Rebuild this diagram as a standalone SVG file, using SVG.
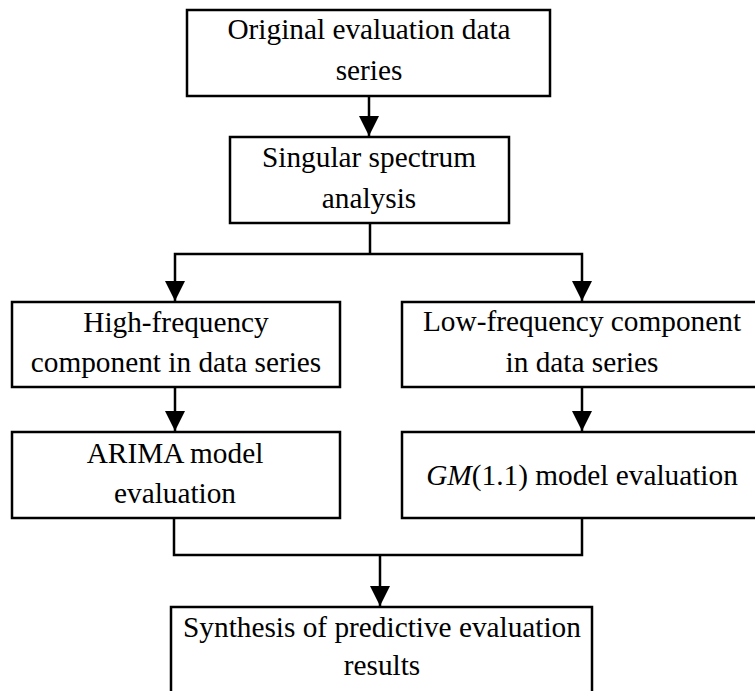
<svg xmlns="http://www.w3.org/2000/svg" width="755" height="691" viewBox="0 0 755 691">
<defs>
<marker id="ah" markerUnits="userSpaceOnUse" markerWidth="20" markerHeight="20" viewBox="0 0 20 20" refX="20" refY="10" orient="auto">
<path d="M0,0 L20,10 L0,20 Z" fill="#000"/>
</marker>
<style>
.box{fill:#fff;stroke:#000;stroke-width:2.5}
.t{font-family:"Liberation Serif","Times New Roman",serif;font-size:29.3px;fill:#000;text-anchor:middle}
.c{fill:none;stroke:#000;stroke-width:2.5}
</style>
</defs>
<rect width="755" height="691" fill="#fff"/>
<g id="n1"><rect class="box" x="187" y="10" width="363" height="86"/><text class="t" x="369" y="39">Original evaluation data</text><text class="t" x="369" y="80">series</text></g>
<g id="n2"><rect class="box" x="230" y="137" width="279" height="86"/><text class="t" x="369" y="167">Singular spectrum</text><text class="t" x="369" y="208">analysis</text></g>
<g id="n3"><rect class="box" x="12" y="302" width="328" height="85"/><text class="t" x="176" y="332">High-frequency</text><text class="t" x="176" y="372">component in data series</text></g>
<g id="n4"><rect class="box" x="402" y="302" width="360" height="85"/><text class="t" x="582" y="331">Low-frequency component</text><text class="t" x="582" y="372">in data series</text></g>
<g id="n5"><rect class="box" x="12" y="432" width="328" height="86"/><text class="t" x="175" y="463">ARIMA model</text><text class="t" x="175" y="503">evaluation</text></g>
<g id="n6"><rect class="box" x="402" y="432" width="360" height="86"/><text class="t" x="582" y="485"><tspan font-style="italic">GM</tspan>(1.1) model evaluation</text></g>
<g id="n7"><rect class="box" x="171" y="607" width="421" height="100"/><text class="t" x="382" y="637">Synthesis of predictive evaluation</text><text class="t" x="382" y="675">results</text></g>
<g id="connectors">
<path class="c" d="M369,96 V136" marker-end="url(#ah)"/>
<path class="c" d="M370,223 V254"/>
<path class="c" d="M370,254 H175 V301" marker-end="url(#ah)"/>
<path class="c" d="M370,254 H582 V301" marker-end="url(#ah)"/>
<path class="c" d="M175,387 V431" marker-end="url(#ah)"/>
<path class="c" d="M582,387 V431" marker-end="url(#ah)"/>
<path class="c" d="M174,518 V555 H582 V518"/>
<path class="c" d="M380,555 V606" marker-end="url(#ah)"/>
</g>
</svg>
